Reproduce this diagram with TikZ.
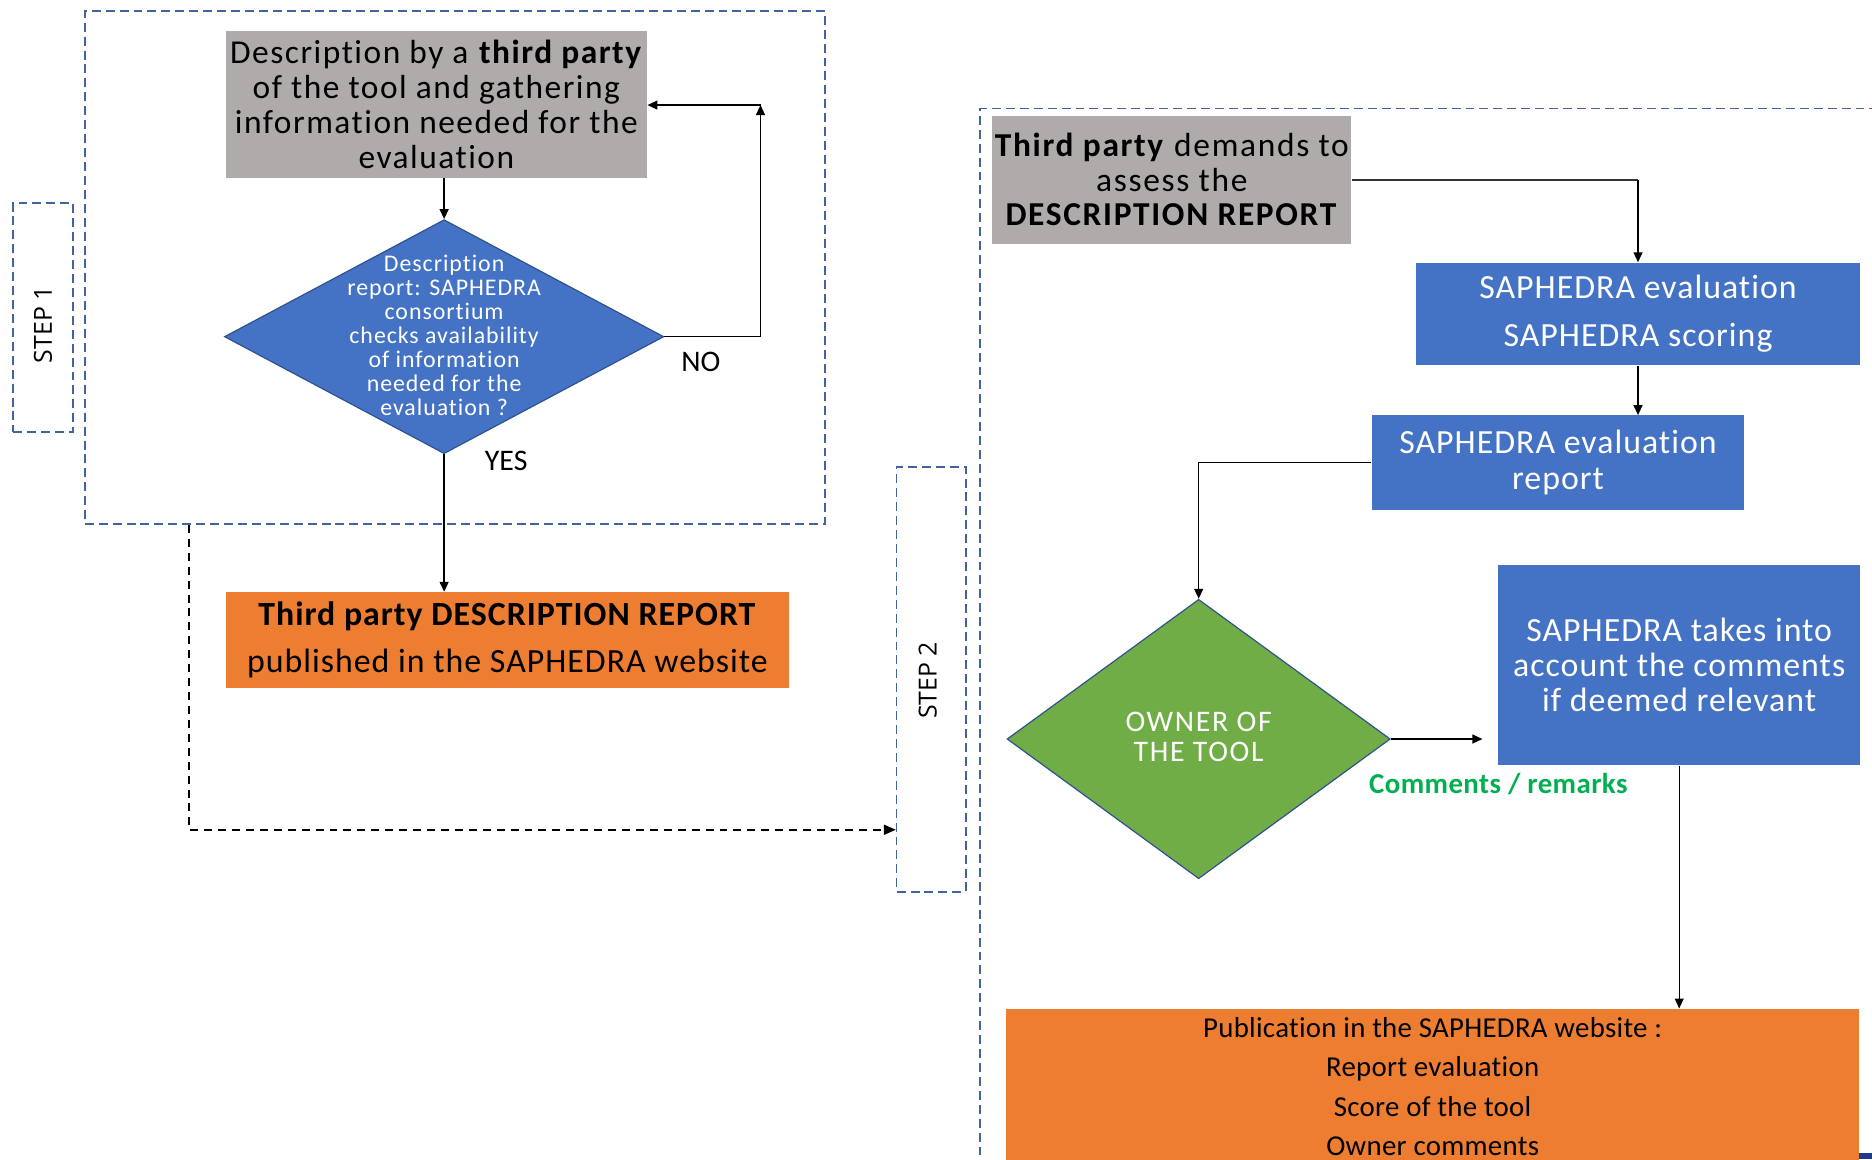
\documentclass[tikz,border=0pt]{standalone}
\usepackage{fontspec}
\setmainfont{Carlito}[Ligatures=NoCommon]
\newfontfamily\stepfont{Open Sans}
\usetikzlibrary{arrows.meta,shapes.geometric}
\definecolor{graybox}{HTML}{AFABAB}
\definecolor{bluebox}{HTML}{4472C4}
\definecolor{orangebox}{HTML}{ED7D31}
\definecolor{greenbox}{HTML}{70AD47}
\definecolor{dashblue}{HTML}{41649E}
\definecolor{outlineblue}{HTML}{2F528F}
\definecolor{commentgreen}{HTML}{00B050}
\definecolor{navyblue}{HTML}{1F3A8A}
\begin{document}
\begin{tikzpicture}[x=0.6pt,y=-0.6pt,
  box/.style={rectangle, inner sep=0pt, align=center},
  graynode/.style={box, fill=graybox, text=black},
  bluenode/.style={box, fill=bluebox, text=white},
  orangenode/.style={box, fill=orangebox, text=black},
  fs/.style n args={3}{font=\fontsize{#1}{#2}\selectfont\addfontfeatures{LetterSpace=#3}},
  stepframe/.style={rectangle, inner sep=0pt, draw=dashblue, line width=0.8pt, dash pattern=on 4.5pt off 2.5pt},
  steplabel/.style={rotate=90, font=\stepfont\fontsize{12.5}{14}\selectfont, inner sep=0pt},
  arr/.style={-{Triangle[length=5pt,width=4.5pt]}, line width=0.7pt, draw=black},
  lbl/.style={inner sep=0pt, font=\fontsize{15}{17}\selectfont}
]
\useasboundingbox (0,0) rectangle (1568,971);
\clip (0,0) rectangle (1568,971);

% frames
\node[stepframe, minimum width=372pt, minimum height=258pt] (frame1) at (381,224) {};
\node[stepframe, minimum width=30pt, minimum height=115.2pt] (st1box) at (36,266) {};
\node[steplabel] (st1) at (36,272) {STEP 1};
\node[stepframe, minimum width=34.8pt, minimum height=213.6pt] (st2box) at (780,569) {};
\node[steplabel] (st2) at (777,570) {STEP 2};
\draw[draw=dashblue, line width=0.8pt, dash pattern=on 4.5pt off 2.5pt] (1620,91) -- (821,91) -- (821,1020);

% step 1 nodes
\node[graynode, fs={16.8}{17.7}{4.5}, minimum width=211.8pt, minimum height=73.8pt] (g1) at (365.5,87.5)
  {Description by a \textbf{third party}\\of the tool and gathering\\information needed for the\\evaluation};
\node[diamond, fill=bluebox, draw=outlineblue, line width=0.6pt, inner sep=0pt, minimum width=220.8pt, minimum height=117.6pt] (d1) at (372,282) {};
\node[align=center, text=white, inner sep=0pt, fs={12}{12}{4}] (d1t) at (372,281)
  {Description\\report: SAPHEDRA\\consortium\\checks availability\\of information\\needed for the\\evaluation ?};
\node[orangenode, fs={17}{24}{3}, minimum width=283.2pt, minimum height=48pt] (o1) at (425,536)
  {\textbf{Third party DESCRIPTION REPORT}\\published in the SAPHEDRA website};

\node[lbl] (no) at (587,303) {NO};
\node[lbl] (yes) at (424,386) {YES};
\coordinate (c1) at (637,88);

\draw[arr] (g1.south -| d1.north) -- (d1.north);
\draw[arr] (d1.east) -| (c1);
\draw[arr] (c1) -- (g1.east |- c1);
\draw[arr] (d1.south) -- (d1.south |- o1.north);

% dashed connector to step 2
\coordinate (dx) at (158,695);
\draw[-{Triangle[length=6pt,width=5pt]}, line width=0.9pt, dash pattern=on 4pt off 3pt] (frame1.south -| dx) -- (dx) -- (st2box.west |- dx);

% step 2 nodes
\node[graynode, fs={16.8}{17.4}{5}, minimum width=180.6pt, minimum height=64.2pt] (g2) at (981.5,150.5)
  {\textbf{Third party} demands to\\assess the\\\textbf{DESCRIPTION REPORT}};
\node[bluenode, fs={17}{24}{3}, minimum width=223.2pt, minimum height=51.6pt] (b2) at (1372,263)
  {SAPHEDRA evaluation\\SAPHEDRA scoring};
\node[bluenode, fs={17}{18}{3}, minimum width=187.2pt, minimum height=47.4pt] (b3) at (1305,387.5)
  {SAPHEDRA evaluation\\report};
\node[diamond, fill=greenbox, draw=outlineblue, line width=0.6pt, inner sep=0pt, minimum width=192.6pt, minimum height=140.4pt] (d2) at (1004,619) {};
\node[align=center, text=white, inner sep=0pt, fs={15}{15}{5.5}] (d2t) at (1004,617.5) {OWNER OF\\THE TOOL};
\node[bluenode, fs={17}{17.7}{3}, minimum width=181.8pt, minimum height=100.8pt] (b4) at (1406.5,557)
  {SAPHEDRA takes into\\account the comments\\if deemed relevant};
\node[orangenode, fs={14.5}{19.8}{1}, minimum width=428.4pt, minimum height=78pt] (o2) at (1200,910)
  {Publication in the SAPHEDRA website :\\Report evaluation\\Score of the tool\\Owner comments};
\node[inner sep=0pt, text=commentgreen, font=\bfseries\fontsize{14.5}{16}\selectfont\addfontfeatures{LetterSpace=1.5}] (cm) at (1255,657) {Comments / remarks};
\fill[navyblue] (1557,966) rectangle (1568,971);

\draw[line width=0.9pt, draw=black!80] (g2.east) -- (g2.east -| b2.north);
\draw[arr] (g2.east -| b2.north) -- (b2.north);
\draw[arr] (b2.south) -- (b2.south |- b3.north);
\draw[arr] (b3.west) -| (d2.north);
\draw[arr, shorten >=7.8pt] (d2.east) -- (b4.west |- d2.east);
\draw[arr] (b4.south) -- (b4.south |- o2.north);
\end{tikzpicture}
\end{document}
